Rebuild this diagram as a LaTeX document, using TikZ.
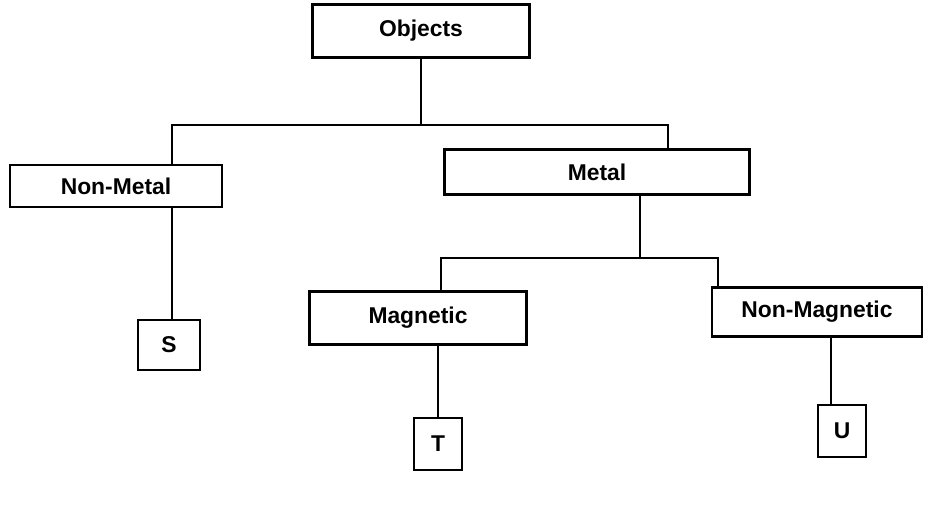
\documentclass[tikz,border=0pt]{standalone}
\usepackage{fontspec}
\setmainfont{Liberation Sans}
\usepackage{tikz}
\usetikzlibrary{calc}

\begin{document}
\begin{tikzpicture}[line width=1.2pt,font=\bfseries\fontsize{13}{15}\selectfont]
\tikzstyle{box}=[draw,rectangle,inner sep=2pt]
\tikzstyle{leaf}=[draw,rectangle,inner sep=2pt,minimum width=0.95cm,minimum height=1.04cm]
\useasboundingbox (0,0) rectangle (18.68,-10.4);

% boxes
\node [box,minimum width=4.34cm,minimum height=1.06cm] (objects) at (8.42,-0.62) {Objects};
\node [box,minimum width=4.24cm,minimum height=0.84cm] (nonmetal) at (2.32,-3.72) {Non-Metal};
\node [box,minimum width=6.1cm,minimum height=0.9cm] (metal) at (11.94,-3.44) {Metal};
\node [box,minimum width=4.34cm,minimum height=1.06cm] (magnetic) at (8.36,-6.36) {Magnetic};
\node [box,minimum width=4.2cm,minimum height=0.98cm] (nonmag) at (16.34,-6.24) {Non-Magnetic};
\node [leaf,minimum width=1.24cm,minimum height=1.0cm] (s) at (3.38,-6.9) {S};
\node [leaf] (t) at (8.76,-8.88) {T};
\node [leaf] (u) at (16.84,-8.62) {U};

% joints
\coordinate (j1) at (3.44,-2.5);
\coordinate (j2) at (13.36,-2.5);
\coordinate (j3) at (8.82,-5.16);
\coordinate (j4) at (14.36,-5.16);
\coordinate (m) at (12.8,-5.16);
\coordinate (n) at (16.62,-7.5);

% lines
\draw (objects.south) -- (objects.south |- j1);
\draw (nonmetal.north -| j1) -- (j1) -- (j2) -- (j2 |- metal.north);
\draw (nonmetal.south -| j1) -- (s.north -| j1);
\draw (metal.south -| m) -- (m);
\draw (magnetic.north -| j3) -- (j3) -- (j4) -- (j4 |- nonmag.north);
\draw (magnetic.south -| t) -- (t.north);
\draw (nonmag.south -| n) -- (u.north -| n);
\end{tikzpicture}
\end{document}
